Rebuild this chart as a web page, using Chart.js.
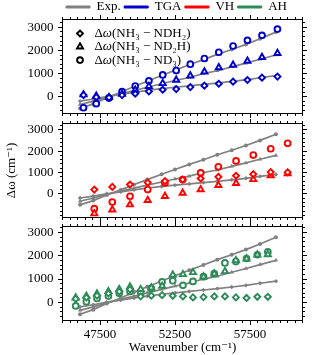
<!DOCTYPE html>
<html>
<head>
<meta charset="utf-8">
<script src="https://cdn.jsdelivr.net/npm/chart.js@4/dist/chart.umd.min.js"></script>
<style>
  html, body { margin: 0; padding: 0; background: #fff; }
  #wrap { position: relative; width: 315px; height: 355px; }
  #wrap canvas { position: absolute; left: 0; top: 0; }
</style>
</head>
<body>
<div id="wrap">
  <canvas id="tga" width="315" height="355"></canvas>
  <canvas id="vh" width="315" height="355"></canvas>
  <canvas id="ah" width="315" height="355"></canvas>
</div>
<script>
// experiment (same gray curves in all three panels)
const expX = [46170, 47050, 47950, 48880, 49770, 50650, 51610, 52500, 53450, 54390, 55320, 56280, 57230, 58170, 59230];
const expNDH2 = [-190, -100, 10, 100, 190, 270, 350, 410, 470, 530, 590, 660, 730, 820, 910];
const expND2H = [-340, -190, -20, 130, 270, 410, 560, 700, 830, 1000, 1120, 1290, 1450, 1620, 1800];
const expND3 = [-510, -310, -50, 190, 440, 670, 920, 1140, 1380, 1600, 1830, 2040, 2260, 2500, 2790];

// TGA (top panel)
const tgaX = [46400, 47250, 48100, 48970, 49850, 50760, 51680, 52580, 53520, 54460, 55420, 56370, 57330, 58300, 59330];
const tgaNDH2 = [70, -20, -40, 70, 130, 230, 300, 330, 415, 476, 560, 650, 723, 823, 868];
const tgaND2H = [90, 30, -30, 110, 290, 450, 578, 723, 905, 1080, 1265, 1372, 1545, 1705, 1880];
const tgaND3 = [-476, -300, -60, 216, 462, 685, 939, 1130, 1405, 1650, 1920, 2190, 2435, 2650, 2920];

// VH (middle panel)
const vhX = [47120, 48320, 49500, 50680, 51830, 53010, 54210, 55390, 56570, 57720, 58880, 60010];
const vhNDH2 = [205, 330, 440, 530, 600, 670, 720, 800, 850, 925, 1020, 1010];
const vhND2H = [-920, -735, -500, -296, -108, 47, 205, 408, 500, 680, 860, 955];
const vhND3 = [-690, -375, -108, 205, 517, 674, 986, 1268, 1540, 1817, 2110, 2366];

// AH (bottom panel)
const ahX = [45880, 46590, 47300, 48060, 48780, 49500, 50210, 50920, 51640, 52350, 53030, 53700, 54400, 55120, 55830, 56560, 57270, 57990, 58690];
const ahNDH2 = [150, 210, 290, 380, 460, 560, 260, 290, 310, 283, 257, 215, 229, 257, 257, 215, 190, 240, 240];
const ahND2H = [200, 270, 370, 470, 560, 670, 560, 630, 700, 1180, 1200, 1285, 1100, 1230, 1330, 1800, 1870, 2040, 2050];
const ahND3 = [-150, 30, 170, 270, 390, 470, 440, 600, 880, 930, 730, 900, 1100, 1230, 1690, 1750, 1880, 2040, 2160];

const xTicks = [47500, 52500, 57500];
const yTicks = [0, 1000, 2000, 3000];
const xMin = 45000, xMax = 61000;
const yMins = [-725, -1100, -775];
const yMaxs = [3335, 3290, 3250];

const methods = ['Exp.', 'TGA', 'VH', 'AH'];
const methodColors = ['#808080', '#0000cd', '#ff0000', '#2e8b57'];
const speciesLabels = ['Δω(NH₃ − NDH₂)', 'Δω(NH₃ − ND₂H)', 'Δω(NH₃ − ND₃)'];
const markerStyles = ['rectRot', 'triangle', 'circle'];
const markerRadius = [3.0, 3.5, 2.9];
const expRadius = [2.2, 2.5, 2.0];

const FONT = "'Liberation Serif', 'DejaVu Serif', serif";
Chart.defaults.font.family = FONT;
Chart.defaults.font.size = 13;
Chart.defaults.color = '#000';

function points(xs, ys) {
    return xs.map((x, i) => ({ x: x, y: ys[i] }));
}

function theorySets(name, xs, series, color) {
    return series.map((ys, k) => ({
        label: name + ' ' + speciesLabels[k],
        data: points(xs, ys),
        showLine: false,
        pointStyle: markerStyles[k],
        pointRadius: markerRadius[k],
        pointBorderWidth: 1.9,
        pointBorderColor: color,
        pointBackgroundColor: '#fff',
        borderColor: color
    }));
}

function expSets() {
    return [expNDH2, expND2H, expND3].map((ys, k) => ({
        label: 'Exp. ' + speciesLabels[k],
        data: points(expX, ys),
        showLine: true,
        borderColor: methodColors[0],
        borderWidth: 1.7,
        pointStyle: markerStyles[k],
        pointRadius: expRadius[k],
        pointBorderWidth: 0,
        pointBackgroundColor: methodColors[0],
        pointBorderColor: methodColors[0]
    }));
}

// box round the plot and outward ticks on all four sides
const frame = {
    id: 'frame',
    afterDraw(chart) {
        const { ctx, chartArea: a } = chart;
        const x = chart.scales.x, y = chart.scales.y;
        const snap = v => Math.round(v - 0.5) + 0.5;
        ctx.save();
        ctx.strokeStyle = '#000';
        ctx.lineWidth = 1;
        ctx.strokeRect(a.left, a.top, a.right - a.left, a.bottom - a.top);
        ctx.beginPath();
        for (let v = xMin; v <= xMax; v += 500) {
            const len = xTicks.includes(v) ? 4.5 : 2.5;
            const px = snap(x.getPixelForValue(v));
            ctx.moveTo(px, a.bottom); ctx.lineTo(px, a.bottom + len);
            ctx.moveTo(px, a.top); ctx.lineTo(px, a.top - len);
        }
        for (let v = Math.ceil(y.min / 200) * 200; v <= y.max; v += 200) {
            const len = yTicks.includes(v) ? 4.5 : 2.5;
            const py = snap(y.getPixelForValue(v));
            ctx.moveTo(a.left, py); ctx.lineTo(a.left - len, py);
            ctx.moveTo(a.right, py); ctx.lineTo(a.right + len, py);
        }
        ctx.stroke();
        ctx.restore();
    }
};

function drawMathText(ctx, text, x, y) {
    ctx.fillStyle = '#000';
    ctx.textBaseline = 'middle';
    ctx.textAlign = 'left';
    let cx = x;
    for (const ch of text) {
        ctx.font = (ch === 'ω' ? 'italic ' : '') + '13px ' + FONT;
        ctx.fillText(ch, cx, y);
        cx += ctx.measureText(ch).width;
    }
}

// marker key inside the top panel
const speciesKey = {
    id: 'speciesKey',
    afterDraw(chart) {
        const { ctx, chartArea: a } = chart;
        ctx.save();
        speciesLabels.forEach((text, k) => {
            const yy = a.top + 14 + k * 13.3;
            ctx.lineWidth = 1.9;
            ctx.strokeStyle = '#000';
            ctx.fillStyle = '#fff';
            Chart.helpers.drawPoint(ctx, {
                pointStyle: markerStyles[k], radius: markerRadius[k], borderWidth: 1.9, rotation: 0
            }, a.left + 17.5, yy);
            drawMathText(ctx, text, a.left + 32, yy);
        });
        ctx.restore();
    }
};

function makePanel(id, p, datasets, cfg) {
    const showX = !!cfg.xLabels;
    return new Chart(document.getElementById(id), {
        type: 'scatter',
        data: { datasets: datasets },
        options: {
            responsive: false,
            animation: false,
            events: [],
            layout: { padding: cfg.padding },
            plugins: {
                tooltip: { enabled: false },
                legend: cfg.legend || { display: false }
            },
            scales: {
                x: {
                    type: 'linear', min: xMin, max: xMax, display: showX,
                    grid: { display: false, drawTicks: false },
                    border: { display: false },
                    afterBuildTicks: s => { s.ticks = xTicks.map(v => ({ value: v })); },
                    afterFit: showX ? (s => { s.height = 34.5; }) : undefined,
                    ticks: { padding: 6, callback: v => String(v) },
                    title: { display: showX, text: 'Wavenumber (cm⁻¹)', padding: 0 }
                },
                y: {
                    type: 'linear', min: yMins[p], max: yMaxs[p],
                    grid: { display: false, drawTicks: false },
                    border: { display: false },
                    afterBuildTicks: s => { s.ticks = yTicks.map(v => ({ value: v })); },
                    afterFit: s => { s.width = 62.5; },
                    ticks: { padding: 9, callback: v => String(v) },
                    title: { display: !!cfg.yTitle, text: cfg.yTitle || '', padding: { top: 4, bottom: 0 } }
                }
            }
        },
        plugins: cfg.key ? [frame, speciesKey] : [frame]
    });
}

makePanel('tga', 0, theorySets('TGA', tgaX, [tgaNDH2, tgaND2H, tgaND3], methodColors[1]).concat(expSets()), {
    padding: { left: 0, right: 12.5, top: -3, bottom: 241.5 },
    key: true,
    legend: {
        display: true, position: 'top', align: 'start', fullSize: false, maxHeight: 22.5,
        onClick: null,
        labels: {
            boxWidth: 24, boxHeight: 2, padding: 3.5, color: '#000',
            font: { size: 13 },
            generateLabels: () => methods.map((m, i) => ({
                text: m, fillStyle: methodColors[i], strokeStyle: methodColors[i],
                lineWidth: 1, hidden: false
            }))
        }
    }
});

makePanel('vh', 1, theorySets('VH', vhX, [vhNDH2, vhND2H, vhND3], methodColors[2]).concat(expSets()), {
    padding: { left: 0, right: 12.5, top: 123.5, bottom: 137.5 },
    yTitle: 'Δω (cm⁻¹)'
});

makePanel('ah', 2, theorySets('AH', ahX, [ahNDH2, ahND2H, ahND3], methodColors[3]).concat(expSets()), {
    padding: { left: 0, right: 12.5, top: 226.5, bottom: 0 },
    xLabels: true
});
</script>
</body>
</html>
